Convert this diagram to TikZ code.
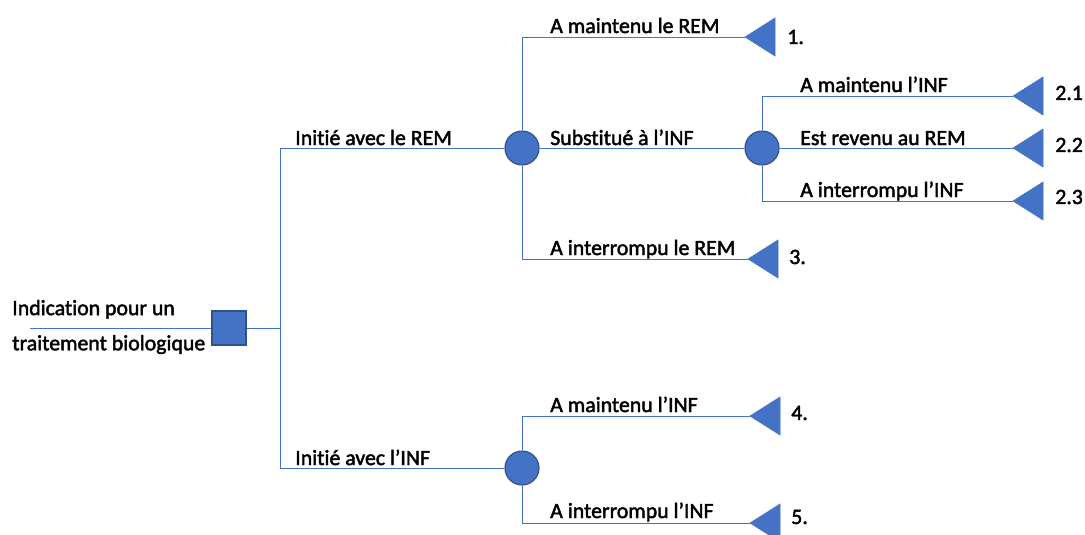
\documentclass[tikz,border=0pt]{standalone}
\usepackage{fontspec}
\setmainfont{Carlito}[Ligatures=NoCommon, FakeBold=2]
\usetikzlibrary{positioning}
\definecolor{dtblue}{RGB}{68, 114, 196}
\definecolor{dtedge}{RGB}{47, 82, 143}
\tikzset{
    branch/.style={draw=dtblue, line width=0.6pt},
    decnode/.style={rectangle, draw=dtedge, fill=dtblue, line width=0.8pt, minimum size=0.85cm, inner sep=0pt},
    chancenode/.style={circle, draw=dtedge, fill=dtblue, line width=0.8pt, minimum size=0.85cm, inner sep=0pt},
    leaf/.style={fill=dtblue, draw=dtblue, line width=0.4pt},
    lbl/.style={anchor=base west, inner sep=0pt, font=\fontsize{15.5}{18}\selectfont},
    outlbl/.style={anchor=west, inner sep=0pt, font=\fontsize{15.5}{18}\selectfont}
}

\begin{document}
\begin{tikzpicture}[x=0.025cm, y=-0.025cm]
    \useasboundingbox (0,0) rectangle (1085,534);
    % nodes of the tree
    \coordinate (start) at (30,328);
    \coordinate (split) at (280,328);
    \node[decnode] (dec) at (229,328) {};
    \node[chancenode] (rem) at (522,148) {};
    \node[chancenode] (sub) at (762,148) {};
    \node[chancenode] (inf) at (522,468) {};
    \coordinate (t1) at (745,37);
    \coordinate (t3) at (748,259);
    \coordinate (t21) at (1013,96);
    \coordinate (t22) at (1013,148);
    \coordinate (t23) at (1013,201);
    \coordinate (t4) at (750,416);
    \coordinate (t5) at (750,523);

    % branches
    \draw[branch] (start) -- (dec.west);
    \draw[branch] (dec.east) -- (split);
    \draw[branch] (split) |- (rem.west);
    \draw[branch] (split) |- (inf.west);
    \draw[branch] (rem.north) |- (t1);
    \draw[branch] (rem.east) -- (sub.west);
    \draw[branch] (rem.south) |- (t3);
    \draw[branch] (sub.north) |- (t21);
    \draw[branch] (sub.east) -- (t22);
    \draw[branch] (sub.south) |- (t23);
    \draw[branch] (inf.north) |- (t4);
    \draw[branch] (inf.south) |- (t5);

    % terminal triangles
    \foreach \t in {t1, t3, t21, t22, t23, t4, t5}
        \filldraw[leaf] (\t) -- ++(30,-19) -- ++(0,38) -- cycle;

    % labels
    \node[anchor=west, align=left, inner sep=0pt, font=\fontsize{15.5}{25}\selectfont] (root) at (12,327)
        {Indication pour un\\traitement biologique};
    \node[lbl] (l1) at (295,145) {Initié avec le REM};
    \node[lbl] (l2) at (295,465) {Initié avec l’INF};
    \node[lbl] (l11) at (550,33) {A maintenu le REM};
    \node[lbl] (l12) at (550,145) {Substitué à l’INF};
    \node[lbl] (l13) at (550,255) {A interrompu le REM};
    \node[lbl] (l121) at (800,92) {A maintenu l’INF};
    \node[lbl] (l122) at (800,145) {Est revenu au REM};
    \node[lbl] (l123) at (800,197) {A interrompu l’INF};
    \node[lbl] (l21) at (550,412) {A maintenu l’INF};
    \node[lbl] (l22) at (550,518) {A interrompu l’INF};

    % outcome numbers
    \node[outlbl] (o1) at (787,37) {1.};
    \node[outlbl] (o3) at (789,257) {3.};
    \node[outlbl] (o21) at (1055,93) {2.1};
    \node[outlbl] (o22) at (1055,145) {2.2};
    \node[outlbl] (o23) at (1055,197) {2.3};
    \node[outlbl] (o4) at (791,413) {4.};
    \node[outlbl] (o5) at (791,517) {5.};
\end{tikzpicture}
\end{document}
